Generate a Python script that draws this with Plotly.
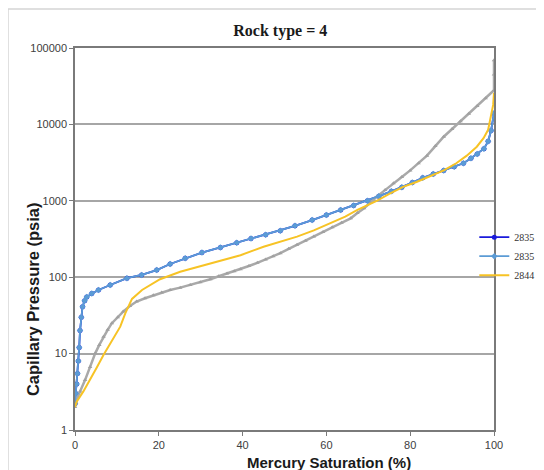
import plotly.graph_objects as go

# ---- data ----
blue_s = [0, 0.2, 0.4, 0.6, 0.8, 1.0, 1.2, 1.5, 1.8, 2.3, 2.8, 4.0, 5.6, 8.4, 12.4, 15.9, 19.5, 22.7, 26.3,
          30.3, 34.7, 38.6, 42, 45.5, 49, 52.5, 56.6, 60, 63.4, 66.5, 69.8, 72.5, 75.5, 78, 80.5, 83,
          85.5, 88, 90.5, 92.7, 94.5, 96, 97.6, 98.6, 99.3, 100]
blue_p = [2.2, 3, 4, 5.5, 8, 12, 20, 30, 41, 49, 55, 61, 68, 79, 97, 107, 124, 149, 177,
          210, 245, 282, 320, 360, 405, 470, 560, 650, 760, 870, 1000, 1150, 1330, 1500, 1730, 2000,
          2250, 2500, 2800, 3100, 3600, 4100, 4800, 6000, 8300, 14000]

yellow_s = [0, 0.4, 2.0, 3.6, 5.2, 6.8, 9.2, 10.8, 12, 13.6, 16, 20.3, 25.1, 30.7, 36.3, 39.5, 45, 53,
            57, 61, 64.5, 67.4, 70, 72, 75, 78.3, 81.5, 84.7, 88, 91, 93.5, 95.9, 97.5, 98.6,
            99.3, 99.8, 100]
yellow_p = [2.0, 2.35, 3.2, 4.5, 6.6, 9.6, 15.8, 22.5, 33.7, 52, 68, 94, 118, 144, 177, 194, 250, 340,
            410, 507, 620, 760, 880, 1000, 1230, 1520, 1760, 2070, 2500, 3100, 3900, 5100, 6600, 8500,
            12500, 18000, 26000]

gray_s = [0, 0.2, 1.2, 2.4, 3.6, 4.8, 5.8, 6.8, 7.8, 8.8, 10.2, 11.5, 13.1, 14.7, 16.7, 18.7, 20.7,
          22.7, 25.1, 27.5, 29.9, 32.3, 34.3, 36.3, 38, 39.5, 41.5, 43.5, 45.5, 47.3, 49, 51, 53, 55,
          57, 59.2, 61.4, 63.6, 65.8, 67.4, 69, 70.5, 72, 74, 76, 78, 80, 82, 84, 86, 88, 90, 92,
          94, 96, 98, 100, 100, 100]
gray_p = [2.0, 2.3, 3.2, 4.5, 6.7, 10, 13, 16.6, 20.5, 25, 30, 35.5, 42, 48, 53, 58, 63,
          68, 73, 79, 86, 94, 103, 112, 120, 127, 140, 154, 170, 188, 206, 235, 265, 300,
          340, 390, 450, 515, 590, 690, 800, 950, 1130, 1380, 1700, 2050, 2500, 3100, 3900, 5200, 6900, 8700, 11000,
          13800, 17400, 22000, 28000, 45000, 69000]

names = ["2835", "2835", "2844"]
y_ticks = [1, 10, 100, 1000, 10000, 100000]
x_ticks = [0, 20, 40, 60, 80, 100]

fig = go.Figure()
fig.add_trace(go.Scatter(x=blue_s, y=blue_p, name=names[0], mode="lines+markers",
                         line=dict(color="#1a1adb", width=1.8),
                         marker=dict(symbol="circle", size=5, color="#1a1adb")))
fig.add_trace(go.Scatter(x=gray_s, y=gray_p, name="gray", mode="lines+markers", showlegend=False,
                         line=dict(color="#a9a9a9", width=2.5),
                         marker=dict(symbol="triangle-up", size=4, color="#a0a0a0")))
fig.add_trace(go.Scatter(x=blue_s, y=blue_p, name=names[1], mode="lines+markers",
                         line=dict(color="#5b9bd5", width=1.8),
                         marker=dict(symbol="diamond", size=5, color="#5b9bd5")))
fig.add_trace(go.Scatter(x=yellow_s, y=yellow_p, name=names[2], mode="lines",
                         line=dict(color="#f7c325", width=2)))

axis_font = dict(family="Liberation Sans, Arial", size=11, color="#404040")
fig.update_xaxes(range=[0, 100], tickvals=x_ticks, ticktext=[str(v) for v in x_ticks],
                 showgrid=False, zeroline=False, showline=True, linecolor="#7a7a7a", linewidth=1.5,
                 mirror=True, ticks="outside", ticklen=4, tickcolor="#7a7a7a", tickfont=axis_font)
fig.update_yaxes(type="log", range=[0, 5], tickvals=y_ticks, ticktext=[str(v) for v in y_ticks],
                 showgrid=True, gridcolor="#a6a6a6", gridwidth=1.5, zeroline=False,
                 showline=True, linecolor="#7a7a7a", linewidth=1.5, mirror=True,
                 ticks="outside", ticklen=4, tickcolor="#7a7a7a", tickfont=axis_font)

W, H = 536, 462
fig.update_layout(
    width=W, height=H,
    margin=dict(l=67, r=50, t=40, b=40, autoexpand=False),
    paper_bgcolor="white", plot_bgcolor="white",
    title=dict(text="<b>Rock type = 4</b>", x=0.49, xref="paper", y=1 - 22 / H, yanchor="middle",
               font=dict(family="Liberation Serif, Times New Roman", size=16, color="#1a1a1a")),
    legend=dict(x=0.953, y=0.455, xanchor="left", yanchor="middle", bgcolor="rgba(0,0,0,0)",
                font=dict(family="Liberation Serif, Times New Roman", size=10, color="#333333"),
                itemwidth=30, tracegroupgap=0),
    showlegend=True,
    annotations=[
        dict(text="<b>Capillary Pressure (psia)</b>", textangle=-90, xref="paper", yref="paper",
             x=-0.100, y=0.343, xanchor="center", yanchor="middle", showarrow=False,
             font=dict(family="Liberation Sans, Arial", size=16.5, color="#1a1a1a")),
        dict(text="<b>Mercury Saturation (%)</b>", xref="paper", yref="paper",
             x=0.606, y=-0.085, xanchor="center", yanchor="middle", showarrow=False,
             font=dict(family="Liberation Sans, Arial", size=15, color="#1a1a1a")),
    ],
    shapes=[
        dict(type="line", xref="paper", yref="paper", x0=-0.16, x1=1.2, y0=1.102, y1=1.102,
             line=dict(color="#d4d4d4", width=1.5)),
        dict(type="line", xref="paper", yref="paper", x0=-0.16, x1=-0.16, y0=1.102, y1=-0.2,
             line=dict(color="#d4d4d4", width=1.5)),
    ],
)

fig.write_html("out.html")
